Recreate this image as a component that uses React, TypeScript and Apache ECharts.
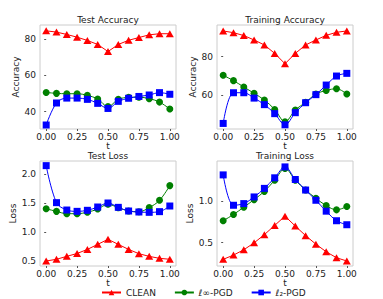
import React, { useEffect, useRef } from "react";
import * as echarts from "echarts";

const T = [0, 0.0833, 0.1667, 0.25, 0.3333, 0.4167, 0.5, 0.5833, 0.6667, 0.75, 0.8333, 0.9167, 1.0];
const X_TICKS = [0, 0.25, 0.5, 0.75, 1.0];
const SERIES_NAMES = ["CLEAN", "ℓ∞-PGD", "ℓ₂-PGD"];

const testAccClean = [84.5, 83.8, 82.5, 81.0, 79.2, 77.0, 73.1, 77.0, 79.3, 80.8, 82.3, 82.9, 82.9];
const testAccLinf = [50.6, 50.1, 49.9, 49.9, 49.0, 47.0, 42.8, 46.8, 47.9, 48.0, 47.2, 45.3, 41.5];
const testAccL2 = [32.7, 44.8, 47.5, 47.5, 46.8, 44.6, 41.8, 45.7, 47.4, 48.4, 49.2, 50.5, 49.6];

const trainAccClean = [93.4, 92.5, 91.0, 88.7, 86.1, 81.7, 76.3, 81.7, 86.1, 88.7, 91.1, 92.7, 93.4];
const trainAccLinf = [70.3, 67.5, 64.2, 60.9, 57.4, 52.5, 46.1, 52.2, 56.2, 60.5, 62.4, 63.3, 60.5];
const trainAccL2 = [45.2, 61.2, 61.2, 58.4, 55.0, 50.3, 44.5, 50.8, 56.0, 60.2, 65.2, 69.9, 71.3];

const testLossClean = [0.5, 0.53, 0.58, 0.63, 0.7, 0.787, 0.874, 0.787, 0.7, 0.626, 0.58, 0.546, 0.53];
const testLossLinf = [1.4, 1.356, 1.316, 1.316, 1.34, 1.397, 1.477, 1.42, 1.362, 1.35, 1.42, 1.546, 1.8];
const testLossL2 = [2.144, 1.506, 1.379, 1.356, 1.374, 1.431, 1.5, 1.425, 1.362, 1.345, 1.339, 1.351, 1.448];

const trainLossClean = [0.298, 0.349, 0.413, 0.496, 0.595, 0.706, 0.817, 0.698, 0.583, 0.48, 0.389, 0.317, 0.278];
const trainLossLinf = [0.762, 0.837, 0.925, 1.016, 1.115, 1.25, 1.389, 1.25, 1.131, 1.032, 0.944, 0.893, 0.933];
const trainLossL2 = [1.313, 0.948, 0.968, 1.048, 1.151, 1.278, 1.409, 1.258, 1.131, 1.008, 0.877, 0.762, 0.714];

const TITLES = ["Test Accuracy", "Training Accuracy", "Test Loss", "Training Loss"];
const Y_NAMES = ["Accuracy", "Accuracy", "Loss", "Loss"];
const Y_TICKS = [[40, 60, 80], [60, 80], [0.5, 1.0, 1.5, 2.0], [0.5, 1.0]];
const Y_RANGES = [[30.5, 87.7], [42.3, 96.5], [0.414, 2.224], [0.218, 1.48]];

const FONT = "DejaVu Sans";
const TXT = "#222";

export default function App() {
  const ref = useRef<HTMLDivElement>(null);
  useEffect(() => {
    if (!ref.current) return;
    const chart = echarts.init(ref.current, null, { renderer: "svg" });
    const grids = [
      { left: 40, top: 25, width: 136, height: 104 },
      { left: 217, top: 25, width: 136, height: 104 },
      { left: 40, top: 161, width: 136, height: 105 },
      { left: 217, top: 161, width: 136, height: 105 },
    ];
    const nameGaps = [10, 11, 10, 9];
    const data = [
      [testAccClean, testAccLinf, testAccL2],
      [trainAccClean, trainAccLinf, trainAccL2],
      [testLossClean, testLossLinf, testLossL2],
      [trainLossClean, trainLossLinf, trainLossL2],
    ];
    const colors = ["#ff0000", "#008000", "#0000ff"];
    const symbols = ["triangle", "circle", "rect"];
    const sizes: any[] = [[8, 7], 7, 7];
    const series: any[] = [];
    data.forEach((g, gi) => {
      g.forEach((vals, si) => {
        series.push({
          name: SERIES_NAMES[si],
          type: "line",
          xAxisIndex: gi,
          yAxisIndex: gi,
          data: vals.map((v, i) => [T[i], v]),
          smooth: si === 0 ? false : 0.35,
          symbol: symbols[si],
          symbolSize: sizes[si],
          showSymbol: true,
          lineStyle: { color: colors[si], width: 1 },
          itemStyle: { color: colors[si] },
          z: 2 + si,
        });
      });
    });
    const axisLabelStyle = { fontFamily: FONT, fontSize: 9, color: TXT };
    const option: any = {
      animation: false,
      grid: grids.map((g) => ({ ...g, show: true, borderColor: "#cccccc", borderWidth: 1, containLabel: false })),
      xAxis: grids.map((_, i) => ({
        type: "value",
        gridIndex: i,
        min: -0.05,
        max: 1.05,
        name: "t",
        nameLocation: "middle",
        nameGap: 9,
        nameTextStyle: { fontFamily: FONT, fontSize: 9, color: TXT },
        axisLine: { show: false },
        splitLine: { show: false },
        axisTick: { show: true, length: 2, lineStyle: { color: "#555" }, customValues: X_TICKS },
        axisLabel: { ...axisLabelStyle, margin: 3, customValues: X_TICKS, formatter: (v: number) => v.toFixed(2) },
      })),
      yAxis: grids.map((_, i) => ({
        type: "value",
        gridIndex: i,
        min: Y_RANGES[i][0],
        max: Y_RANGES[i][1],
        name: Y_NAMES[i],
        nameLocation: "middle",
        nameGap: nameGaps[i],
        nameTextStyle: { fontFamily: FONT, fontSize: 9, color: TXT },
        axisLine: { show: false },
        splitLine: { show: false },
        axisTick: { show: true, length: 2, lineStyle: { color: "#555" }, customValues: Y_TICKS[i] },
        axisLabel: {
          ...axisLabelStyle,
          margin: 4,
          customValues: Y_TICKS[i],
          formatter: (v: number) => (i < 2 ? String(Math.round(v)) : v.toFixed(1)),
        },
      })),
      title: TITLES.map((t, i) => ({
        text: t,
        left: grids[i].left + grids[i].width / 2,
        top: grids[i].top - 10,
        textAlign: "center",
        padding: 0,
        textStyle: { fontFamily: FONT, fontSize: 9, fontWeight: "normal", color: TXT },
      })),
      legend: {
        data: SERIES_NAMES,
        left: 101,
        top: 288,
        padding: 0,
        itemWidth: 19,
        itemHeight: 7,
        itemGap: 18,
        textStyle: { fontFamily: FONT, fontSize: 9, color: TXT },
      },
      series,
    };
    chart.setOption(option);
    return () => chart.dispose();
  }, []);
  return (
    <div
      ref={ref}
      style={{ position: "fixed", left: 0, top: 0, width: 383, height: 299, background: "#fff" }}
    />
  );
}
